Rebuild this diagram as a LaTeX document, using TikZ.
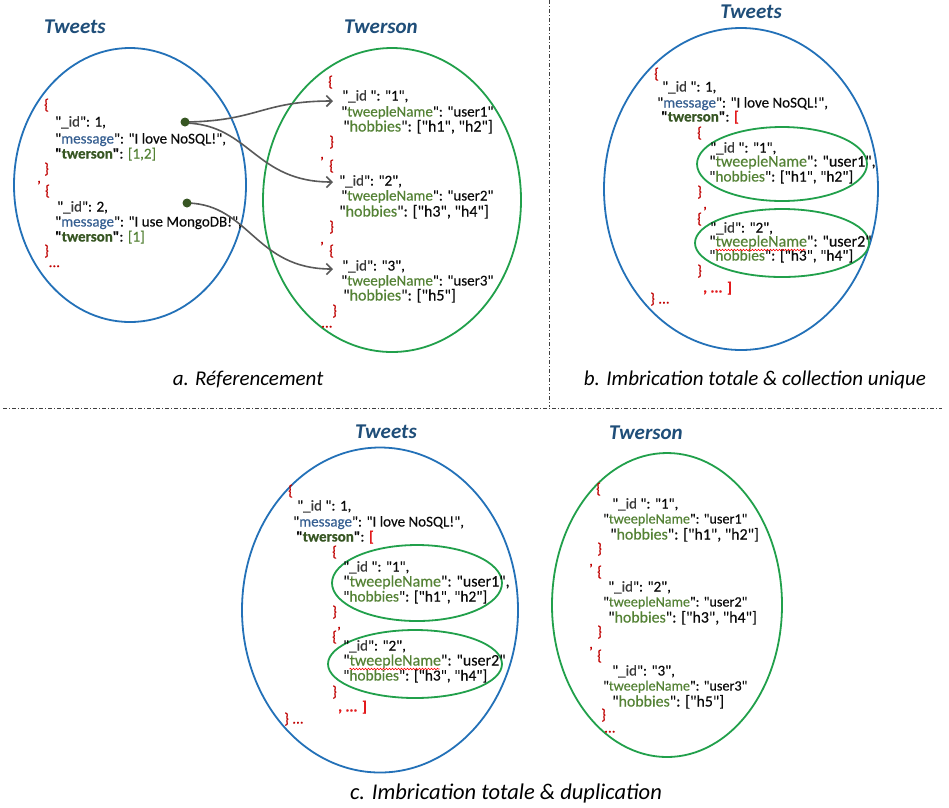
\documentclass[tikz,border=0pt]{standalone}
\usepackage{fontspec}
\newfontfamily\jf{Carlito}[FakeBold=0.35]
\newfontfamily\jc{Carlito}
\usetikzlibrary{arrows.meta,shapes.geometric,decorations.pathmorphing}
\definecolor{tblue}{HTML}{1F4E79}
\definecolor{eblue}{HTML}{2371B8}
\definecolor{egreen}{HTML}{21A04B}
\definecolor{cred}{HTML}{C00000}
\definecolor{cbr}{HTML}{E31A1C}
\definecolor{cmsg}{HTML}{365F91}
\definecolor{cgr}{HTML}{548235}
\definecolor{ctw}{HTML}{375623}
\definecolor{cid}{HTML}{3B3B3B}
\definecolor{ctx}{HTML}{0A0A0A}
\definecolor{carrow}{HTML}{595959}
\definecolor{cdiv}{HTML}{404040}
\newcommand\qk[2]{"\textcolor{#1}{#2}"}
\newcommand\jid{\qk{cid}{\_id}}
\newcommand\jids{"\textcolor{cid}{\_id} "}
\newcommand\jmsg{\qk{cmsg}{message}}
\newcommand\jtw{\textbf{"\textcolor{ctw}{twerson}"}}
\newcommand\jtn{\qk{cgr}{tweepleName}}
\newcommand\jhb{\qk{cgr}{hobbies}}
\newcommand\brdots{\makebox[0pt][l]{\hspace{4.5pt}\raisebox{-11.5pt}{...}}\}}
\begin{document}
\begin{tikzpicture}[x=1pt,y=-1pt,
  jl/.style={anchor=west,inner sep=0,text height=10.5pt,text depth=3.5pt,font=\jf\fontsize{#1}{#1}\selectfont,text=ctx},
  jl/.default=15,
  rd/.style={text=cred},
  ttl/.style={inner sep=0,font=\jc\bfseries\itshape\fontsize{21}{24}\selectfont,text=tblue},
  captext/.style={inner sep=0,font=\jc\itshape\fontsize{#1}{24}\selectfont,text=black},
  captext/.default=21,
  coll/.style={draw,ellipse,inner sep=0,line width=1.8pt},
  bluecoll/.style={coll,draw=eblue},
  greencoll/.style={coll,draw=egreen},
  dotn/.style={circle,fill=ctw,inner sep=0,minimum size=9pt},
  refarrow/.style={draw=carrow,line width=1.6pt,-{Straight Barb[length=5.5pt,width=11pt,line width=1.6pt]}},
  divider/.style={draw=cdiv,line width=0.9pt,dash pattern=on 4pt off 2pt on 1pt off 2pt},
  squig/.style={draw=red,line width=0.6pt,decorate,decoration={snake,segment length=3pt,amplitude=0.8pt}}
]
\fill[white] (0,0) rectangle (949,807);
\useasboundingbox (0,0) rectangle (949,807);

% dividers
\coordinate (v1) at (549,0);
\coordinate (v2) at (549,407);
\coordinate (h1) at (3,408);
\coordinate (h2) at (942,408);
\draw[divider] (v1) -- (v2);
\draw[divider] (h1) -- (h2);

% ================= panel a =================
\node[ttl] (aTt) at (75,27) {Tweets};
\node[ttl] (aWt) at (381,27) {Twerson};
\node[bluecoll,minimum width=232pt,minimum height=274pt] (aTE) at (130,185) {};
\node[greencoll,minimum width=258pt,minimum height=304pt] (aWE) at (392,200) {};

\node[jl,rd] (aT1) at (44,106) {\{};
\node[jl] (aT2) at (55,123) {\jid: 1,};
\node[jl] (aT3) at (55,140) {\jmsg: "I love NoSQL!",};
\node[jl] (aT4) at (55,155) {\jtw: \textcolor{cgr}{[1,2]}};
\node[jl,rd] (aT5) at (44,170) {\}};
\node[jl,rd] (aT6) at (37,179) {,};
\node[jl,rd] (aT7) at (45,192) {\{};
\node[jl] (aT8) at (57,208) {\jid: 2,};
\node[jl] (aT9) at (55,223) {\jmsg: "I use MongoDB!",};
\node[jl] (aT10) at (55,238) {\jtw: \textcolor{cgr}{[1]}};
\node[jl,rd] (aT11) at (44,252) {\brdots};

\node[jl,rd] (aW1) at (328,83) {\{};
\node[jl] (aW2) at (342,97) {\jids: "1",};
\node[jl=15] (aW3) at (341,113) {\jtn: "user1"};
\node[jl=16] (aW4) at (343,128) {\jhb: ["h1", "h2"]};
\node[jl,rd] (aW5) at (329,143) {\}};
\node[jl,rd] (aW6) at (320,155) {,};
\node[jl,rd] (aW7) at (329,167) {\{};
\node[jl] (aW8) at (339,182) {\jid: "2",};
\node[jl=15] (aW9) at (341,197) {\jtn: "user2"};
\node[jl=16] (aW10) at (339,213) {\jhb: ["h3", "h4"]};
\node[jl,rd] (aW11) at (329,228) {\}};
\node[jl,rd] (aW12) at (320,240) {,};
\node[jl,rd] (aW13) at (329,252) {\{};
\node[jl] (aW14) at (342,267) {\jid: "3",};
\node[jl=15] (aW15) at (341,282) {\jtn: "user3"};
\node[jl=16] (aW16) at (343,297) {\jhb: ["h5"]};
\node[jl,rd] (aW17) at (332,312) {\makebox[0pt][l]{\hspace{-11pt}\raisebox{-12pt}{...}}\}};

\coordinate (e1) at (333,101);
\coordinate (e2) at (333,182);
\coordinate (e3) at (333,269);
\draw[refarrow] (186,122) .. controls (258,121) and (262,101) .. (e1);
\draw[refarrow] (186,123) .. controls (250,125) and (255,182) .. (e2);
\draw[refarrow] (188,203) .. controls (250,205) and (255,269) .. (e3);
\node[dotn] (d1) at (185,122) {};
\node[dotn] (d2) at (187,203) {};

\node[captext] (aCap) at (248,380) {a. Réferencement};

% ================= panel b =================
\node[ttl] (bTt) at (751,12) {Tweets};
\node[bluecoll,minimum width=274pt,minimum height=322pt] (bTE) at (741,189) {};
\node[greencoll,minimum width=170pt,minimum height=74pt] (bG1) at (782,164) {};
\node[greencoll,minimum width=174pt,minimum height=68pt] (bG2) at (782,243) {};

\node[jl,rd] (bT1) at (654,75) {\{};
\node[jl] (bT2) at (662,88) {\jids: 1,};
\node[jl] (bT3) at (657,104) {\jmsg: "I love NoSQL!",};
\node[jl] (bT4) at (661,118) {\jtw: \textcolor{cbr}{\textbf{[}}};
\node[jl,rd] (bT5) at (697,134) {\{};
\node[jl=15] (bT6) at (710,149) {\jids: "1",};
\node[jl=16] (bT7) at (709,163) {\jtn: "user1",};
\node[jl=15.4] (bT8) at (709,178) {\jhb: ["h1", "h2"]};
\node[jl,rd] (bT9) at (697,193) {\}};
\node[jl,rd] (bT10) at (703,205) {,};
\node[jl,rd] (bT11) at (697,220) {\{};
\node[jl=15] (bT12) at (710,229) {\jid: "2",};
\node[jl=16] (bT13) at (709,243) {\jtn: "user2"};
\node[jl=15.4] (bT14) at (709,257) {\jhb: ["h3", "h4"]};
\node[jl,rd] (bT15) at (697,272) {\}};
\node[jl,text=cbr] (bT16) at (703,289) {\textbf{, ... ]}};
\node[jl,rd] (bT17) at (650,300) {\} ...};
\draw[squig] ([xshift=6.5pt,yshift=-7pt]bT13.west) -- ++(90,0);

\node[captext] (bCap) at (755,380) {b. Imbrication totale \& collection unique};

% ================= panel c =================
\node[ttl] (cTt) at (386,432) {Tweets};
\node[ttl] (cWt) at (646,433) {Twerson};
\node[bluecoll,minimum width=276pt,minimum height=325pt] (cTE) at (380,610) {};
\node[greencoll,minimum width=170pt,minimum height=76pt] (cG1) at (417,583) {};
\node[greencoll,minimum width=174pt,minimum height=68pt] (cG2) at (415,664) {};
\node[greencoll,minimum width=230pt,minimum height=304pt] (cWE) at (667,605) {};

\node[jl,rd] (cT1) at (288,492) {\{};
\node[jl] (cT2) at (297,507) {\jids: 1,};
\node[jl] (cT3) at (293,523) {\jmsg: "I love NoSQL!",};
\node[jl] (cT4) at (296,538) {\jtw: \textcolor{cbr}{\textbf{[}}};
\node[jl,rd] (cT5) at (332,553) {\{};
\node[jl=15] (cT6) at (343,568) {\jids: "1",};
\node[jl=16] (cT7) at (343,583) {\jtn: "user1",};
\node[jl=15.4] (cT8) at (343,598) {\jhb: ["h1", "h2"]};
\node[jl,rd] (cT9) at (332,613) {\}};
\node[jl,rd] (cT10) at (337,625) {,};
\node[jl,rd] (cT11) at (332,638) {\{};
\node[jl=15] (cT12) at (343,647) {\jid: "2",};
\node[jl=16] (cT13) at (343,662) {\jtn: "user2"};
\node[jl=15.4] (cT14) at (343,677) {\jhb: ["h3", "h4"]};
\node[jl,rd] (cT15) at (332,693) {\}};
\node[jl,text=cbr] (cT16) at (338,708) {\textbf{, ... ]}};
\node[jl,rd] (cT17) at (284,720) {\} ...};
\draw[squig] ([xshift=6.5pt,yshift=-7pt]cT13.west) -- ++(90,0);

\node[jl,rd] (cW1) at (596,490) {\{};
\node[jl] (cW2) at (612,505) {\jids: "1",};
\node[jl=14.2] (cW3) at (603,520) {\jtn: "user1"};
\node[jl=15.9] (cW4) at (610,536) {\jhb: ["h1", "h2"]};
\node[jl,rd] (cW5) at (597,550) {\}};
\node[jl,rd] (cW6) at (589,562) {,};
\node[jl,rd] (cW7) at (597,573) {\{};
\node[jl] (cW8) at (608,588) {\jid: "2",};
\node[jl=14.2] (cW9) at (603,603) {\jtn: "user2"};
\node[jl=15.9] (cW10) at (608,619) {\jhb: ["h3", "h4"]};
\node[jl,rd] (cW11) at (597,633) {\}};
\node[jl,rd] (cW12) at (589,645) {,};
\node[jl,rd] (cW13) at (597,657) {\{};
\node[jl] (cW14) at (612,672) {\jid: "3",};
\node[jl=14.2] (cW15) at (603,687) {\jtn: "user3"};
\node[jl=15.9] (cW16) at (612,703) {\jhb: ["h5"]};
\node[jl,rd] (cW17) at (601,716) {\makebox[0pt][l]{\hspace{3pt}\raisebox{-13pt}{...}}\}};

\node[captext=22.5] (cCap) at (506,793) {c. Imbrication totale \& duplication};
\end{tikzpicture}
\end{document}
